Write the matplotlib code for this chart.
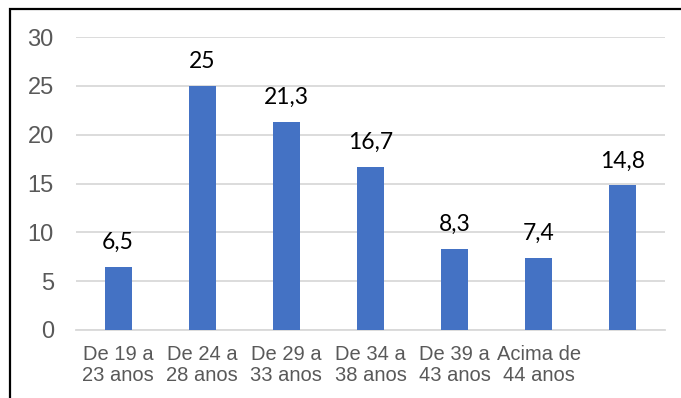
import matplotlib
matplotlib.use("Agg")
import matplotlib.pyplot as plt
from matplotlib.patches import Rectangle

categories = ["De 19 a\n23 anos", "De 24 a\n28 anos", "De 29 a\n33 anos",
              "De 34 a\n38 anos", "De 39 a\n43 anos", "Acima de\n44 anos", ""]
values = [6.5, 25, 21.3, 16.7, 8.3, 7.4, 14.8]
value_labels = ["6,5", "25", "21,3", "16,7", "8,3", "7,4", "14,8"]
y_ticks = [0, 5, 10, 15, 20, 25, 30]

fig = plt.figure(figsize=(6.81, 3.98), dpi=100)
ax = fig.add_axes([76 / 681, 1 - 330 / 398, 589 / 681, 293 / 398])

x = list(range(len(values)))
ax.bar(x, values, width=0.32, color="#4472C4", zorder=3)

for xi, v, lab in zip(x, values, value_labels):
    ax.annotate(lab, (xi, v), xytext=(0, 10), textcoords="offset points",
                ha="center", va="bottom", fontsize=16.5, family="Lato", color="#000000")

ax.set_xlim(-0.5, len(values) - 0.5)
ax.set_ylim(0, 30)
ax.set_yticks(y_ticks)
ax.set_yticklabels([str(t) for t in y_ticks], family="Liberation Sans", fontsize=17, color="#595959")
ax.set_xticks(x)
ax.set_xticklabels(categories, family="Liberation Sans", fontsize=14.5, color="#595959", linespacing=1.12)
ax.tick_params(axis="y", length=0, pad=16)
ax.tick_params(axis="x", length=0, pad=11)
ax.grid(axis="y", color="#D9D9D9", linewidth=1.3, zorder=0)
for s in ["top", "right", "left"]:
    ax.spines[s].set_visible(False)
ax.spines["bottom"].set_color("#D9D9D9")
ax.spines["bottom"].set_linewidth(1.3)

fig.patches.append(Rectangle((10 / 681, -0.2), 1.0, 1.2 - 9 / 398, transform=fig.transFigure,
                             fill=False, edgecolor="black", linewidth=1.6))

fig.savefig("out.png", dpi=100)
